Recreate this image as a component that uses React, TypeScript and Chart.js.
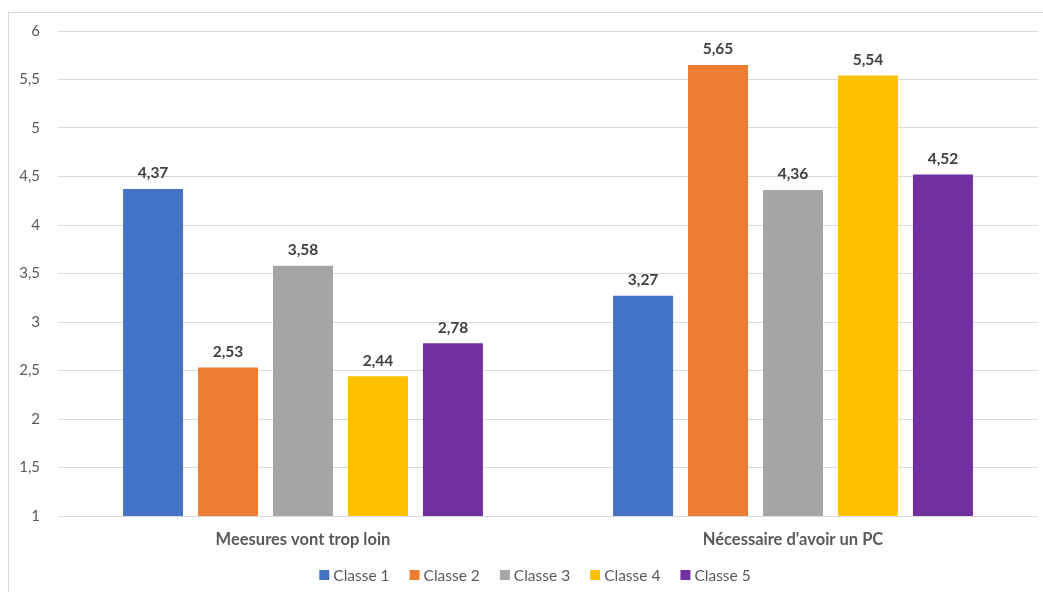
import React, { useEffect, useRef } from "react";
import { Chart, registerables } from "chart.js";

Chart.register(...registerables);

// Survey categories and per-class average scores
const categories = ["Meesures vont trop loin", "Nécessaire d'avoir un PC"];
const seriesNames = ["Classe 1", "Classe 2", "Classe 3", "Classe 4", "Classe 5"];
const classe1 = [4.37, 3.27];
const classe2 = [2.53, 5.65];
const classe3 = [3.58, 4.36];
const classe4 = [2.44, 5.54];
const classe5 = [2.78, 4.52];
const seriesColors = ["#4472C4", "#ED7D31", "#A5A5A5", "#FFC000", "#7030A0"];
const yMin = 1;
const yMax = 6;
const yStep = 0.5;

const FONT = "Lato, 'Noto Sans', sans-serif";

const fmt = (v: number) => String(v).replace(".", ",");

// Light frame around the whole chart
const framePlugin = {
  id: "frame",
  beforeDraw(chart: any) {
    const { ctx } = chart;
    ctx.save();
    ctx.fillStyle = "#ffffff";
    ctx.fillRect(0, 0, chart.width, chart.height);
    ctx.strokeStyle = "#d9d9d9";
    ctx.lineWidth = 1;
    ctx.strokeRect(8.5, 12.5, chart.width + 20, chart.height + 20);
    ctx.restore();
  },
};

// Value labels above each bar
const valueLabelPlugin = {
  id: "valueLabels",
  afterDatasetsDraw(chart: any) {
    const { ctx } = chart;
    ctx.save();
    ctx.font = `bold 15.5px ${FONT}`;
    ctx.fillStyle = "#404040";
    ctx.textAlign = "center";
    ctx.textBaseline = "bottom";
    chart.data.datasets.forEach((ds: any, i: number) => {
      const meta = chart.getDatasetMeta(i);
      meta.data.forEach((bar: any, j: number) => {
        ctx.fillText(fmt(ds.data[j]), bar.x, bar.y - 8);
      });
    });
    ctx.restore();
  },
};

// Legend row below the category labels
const legendPlugin = {
  id: "bottomLegend",
  afterDraw(chart: any) {
    const { ctx } = chart;
    const box = 10;
    const gap = 4;
    const itemGap = 20;
    ctx.save();
    ctx.font = `15.5px ${FONT}`;
    const items = chart.data.datasets.map((ds: any) => ({
      label: ds.label,
      color: ds.backgroundColor,
      w: box + gap + ctx.measureText(ds.label).width,
    }));
    const total =
      items.reduce((s: number, it: any) => s + it.w, 0) + itemGap * (items.length - 1);
    let x = 535 - total / 2;
    const y = 575;
    ctx.textBaseline = "middle";
    ctx.textAlign = "left";
    items.forEach((it: any) => {
      ctx.fillStyle = it.color;
      ctx.fillRect(x, y - box / 2, box, box);
      ctx.fillStyle = "#595959";
      ctx.fillText(it.label, x + box + gap, y + 1);
      x += it.w + itemGap;
    });
    ctx.restore();
  },
};

export default function App() {
  const canvasRef = useRef<HTMLCanvasElement | null>(null);

  useEffect(() => {
    if (!canvasRef.current) return;
    const allSeries = [classe1, classe2, classe3, classe4, classe5];
    const chart = new Chart(canvasRef.current, {
      type: "bar",
      data: {
        labels: categories,
        datasets: allSeries.map((values, i) => ({
          label: seriesNames[i],
          data: values,
          backgroundColor: seriesColors[i],
          borderWidth: 0,
          categoryPercentage: 0.765,
          barPercentage: 0.8,
        })),
      },
      options: {
        responsive: false,
        animation: false,
        devicePixelRatio: 1,
        layout: { padding: { top: 31, right: 5, left: 0, bottom: 36 } },
        plugins: {
          legend: { display: false },
          tooltip: { enabled: false },
        },
        scales: {
          x: {
            grid: { display: false, drawTicks: false },
            border: { display: false },
            ticks: {
              padding: 14,
              color: "#595959",
              font: { family: FONT, size: 16.5, weight: "bold" },
            },
            afterFit(scale: any) {
              scale.height = 40;
            },
          },
          y: {
            min: yMin,
            max: yMax,
            grid: { color: "#d9d9d9", drawTicks: false },
            border: { display: false },
            ticks: {
              stepSize: yStep,
              padding: 18,
              color: "#595959",
              font: { family: FONT, size: 15 },
              callback: (v: any) => fmt(Number(v)),
            },
            afterFit(scale: any) {
              scale.width = 58;
            },
          },
        },
      },
      plugins: [framePlugin, valueLabelPlugin, legendPlugin],
    });
    return () => chart.destroy();
  }, []);

  return (
    <div style={{ position: "absolute", left: 0, top: 0, width: 1043, height: 592 }}>
      <canvas ref={canvasRef} width={1043} height={592} />
    </div>
  );
}
